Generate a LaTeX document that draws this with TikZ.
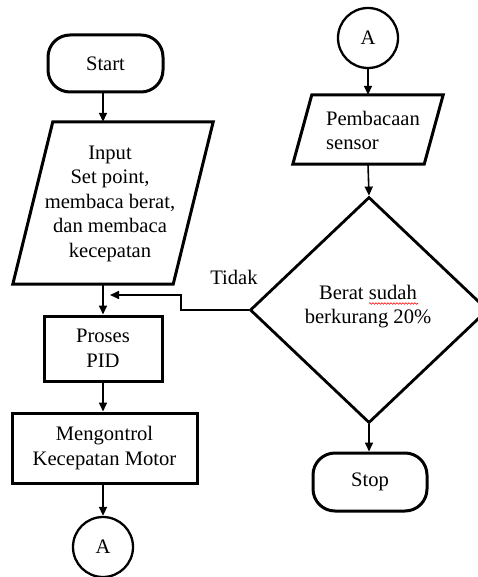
\documentclass[tikz,border=0pt]{standalone}
\usepackage{fontspec}
\setmainfont{Liberation Serif}
\usetikzlibrary{shapes.geometric,arrows.meta,decorations.pathmorphing}
\begin{document}
\begin{tikzpicture}[x=1pt,y=-1pt,
  font=\fontsize{20.6}{24.5}\selectfont,
  term/.style={draw,line width=3pt,rounded corners=22pt,minimum width=115pt,minimum height=57pt,inner sep=0pt},
  proc/.style={draw,line width=3pt,inner sep=0pt,align=center},
  frame/.style={draw=none,inner sep=0pt},
  para/.style={line width=3pt,line join=miter},
  txt/.style={inner sep=0pt},
  conn/.style={draw,circle,line width=2.3pt,minimum size=60pt,inner sep=0pt},
  dec/.style={draw,diamond,line width=2.8pt,minimum width=238pt,minimum height=226pt,inner sep=0pt},
  arr/.style={line width=1.6pt,-{Triangle[length=9pt,width=8pt]}}
]
\clip (0,0) rectangle (478,577);
% left column
\node[term] (start) at (105.5,63.5) {Start};
\node[frame,minimum width=200pt,minimum height=162pt] (inp) at (113,203) {};
\draw[para] (inp.south west) -- ([xshift=-40pt]inp.south east) -- (inp.north east) -- ([xshift=40pt]inp.north west) -- cycle;
\node[txt,align=center] (inpt) at (110,203.5) {Input\\Set point,\\membaca berat,\\dan membaca\\kecepatan};
\node[proc,minimum width=118pt,minimum height=65pt] (pid) at (103,348.5) {Proses\\PID};
\node[proc,minimum width=185pt,minimum height=70pt] (mot) at (104.5,448) {Mengontrol\\Kecepatan Motor};
\node[conn] (a1) at (103,547) {A};
% right column
\node[conn] (a2) at (368,38) {A};
\node[frame,minimum width=150pt,minimum height=69pt] (pb) at (368,129.5) {};
\draw[para] (pb.south west) -- ([xshift=-19pt]pb.south east) -- (pb.north east) -- ([xshift=19pt]pb.north west) -- cycle;
\node[txt,align=left] (pbt) at (373,130.5) {Pembacaan\\sensor};
\node[dec] (dec) at (369,310) {};
\node[txt,align=center] (dect) at (368,306.5) {Berat sudah\\berkurang 20\%};
\draw[red,line width=0.6pt,decorate,decoration={snake,amplitude=0.8pt,segment length=3pt}] (369,303.5) -- (418,303.5);
\node[term,minimum width=114pt,minimum height=58pt] (stop) at (370,482) {Stop};
\node[txt] (tidak) at (234,277) {Tidak};
% connectors
\coordinate (lc) at (103,0);
\draw[arr] (start.south -| lc) -- (inp.north -| lc);
\draw[arr] (inp.south -| lc) -- (pid.north -| lc);
\draw[arr] (pid.south -| lc) -- (mot.north -| lc);
\draw[arr] (mot.south -| lc) -- (a1.north);
\draw[arr] (a2.south) -- (a2.south |- pb.north);
\draw[arr] (a2.south |- pb.south) -- (dec.north);
\draw[arr] (dec.south) -- (dec.south |- stop.north);
\coordinate (tip) at (110,295);
\coordinate (j1) at (181,310);
\draw[arr] (dec.west) -- (j1) |- (tip);
\end{tikzpicture}
\end{document}
